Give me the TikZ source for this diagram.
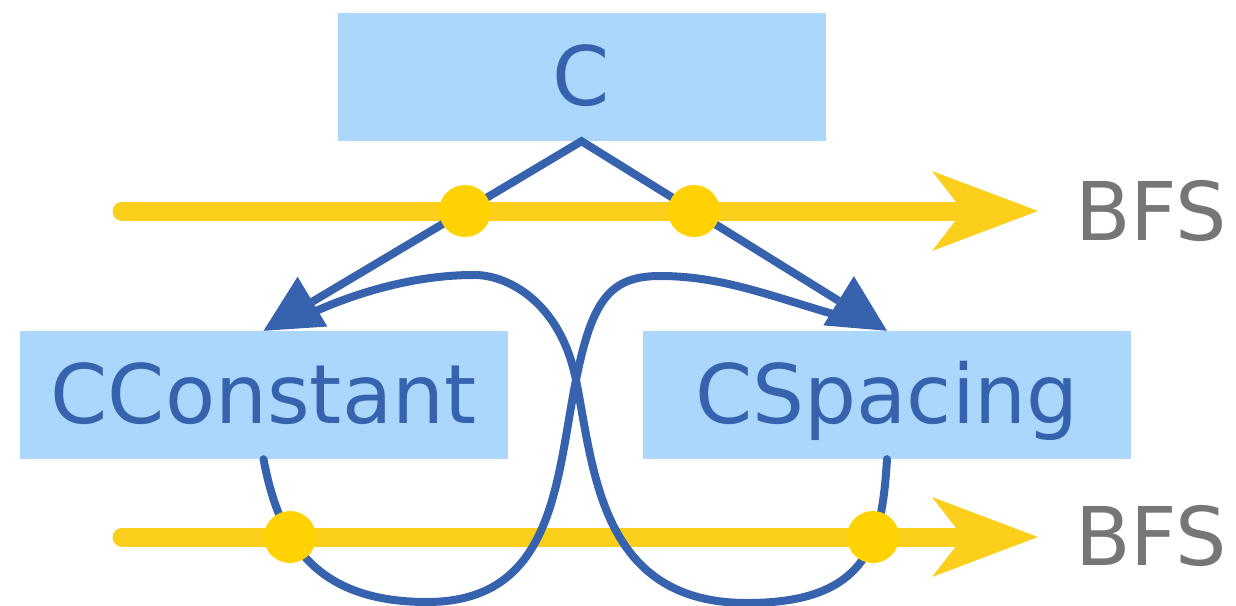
\documentclass[tikz,border=0pt]{standalone}
\usepackage{fontspec}
\setmainfont{DejaVu Sans}
\usetikzlibrary{arrows.meta}
\definecolor{boxfill}{HTML}{ABD7FC}
\definecolor{clsblue}{HTML}{3762AE}
\definecolor{bfsyellow}{HTML}{FCCF1C}
\definecolor{dotyellow}{HTML}{FFD200}
\definecolor{labelgrey}{HTML}{767676}
\begin{document}
\begin{tikzpicture}[x=1pt,y=-1pt,
  cls/.style={fill=boxfill, text=clsblue, inner sep=0pt,
    minimum width=488pt, minimum height=128pt,
    text height=64pt, text depth=8pt,
    font=\fontsize{82}{90}\selectfont},
  lbl/.style={text=labelgrey, inner sep=0pt, anchor=base west,
    font=\fontsize{81}{89}\selectfont},
  bfsline/.style={draw=bfsyellow, line width=19pt, line cap=round,
    -{Stealth[length=106pt, width=80pt, inset=31pt, line width=0pt]}},
  inherit/.style={draw=clsblue, line width=8pt,
    {Triangle[length=57pt, width=58pt, line width=0pt]}-{Triangle[length=57pt, width=58pt, line width=0pt]}},
  flow/.style={draw=clsblue, line width=8pt, line cap=round},
  dot/.style={circle, fill=dotyellow, inner sep=0pt, minimum size=52pt}]
\useasboundingbox (0,0) rectangle (1236,605);

% class boxes
\node[cls] (C) at (581.5,77) {C};
\node[cls] (CConstant) at (263.5,395) {CConstant};
\node[cls] (CSpacing) at (887,395) {CSpacing};

% traversal order arrows
\coordinate (bfsA0) at (122,211);
\coordinate (bfsA1) at (1038,211);
\coordinate (bfsB0) at (122,537);
\coordinate (bfsB1) at (1038,537);
\draw[bfsline] (bfsA0) -- (bfsA1);
\draw[bfsline] (bfsB0) -- (bfsB1);
\node[lbl] (bfsAtext) at (1075,240.5) {BFS};
\node[lbl] (bfsBtext) at (1075,565.5) {BFS};

% inheritance edges
\draw[inherit] (CConstant.north) -- (C.south) -- (CSpacing.north);

% depth-first walks crossing between the subclasses
\coordinate (intoCSpacing) at (840,316);
\coordinate (intoCConstant) at (305,316);
\draw[flow] (CConstant.south) .. controls (278,535) and (310,602) .. (427,602)
  .. controls (555,602) and (556,480) .. (576,380)
  .. controls (592,300) and (610,276) .. (660,276)
  .. controls (722,276) and (770,296) .. (intoCSpacing);
\draw[flow] (CSpacing.south) .. controls (882,540) and (870,603) .. (747,603)
  .. controls (600,603) and (594,470) .. (576,380)
  .. controls (560,300) and (505,274) .. (473,275)
  .. controls (420,275) and (360,290) .. (intoCConstant);

% visit markers
\node[dot] (v1) at (465,211) {};
\node[dot] (v2) at (694,211) {};
\node[dot] (v3) at (290,537) {};
\node[dot] (v4) at (873,537) {};
\end{tikzpicture}
\end{document}
